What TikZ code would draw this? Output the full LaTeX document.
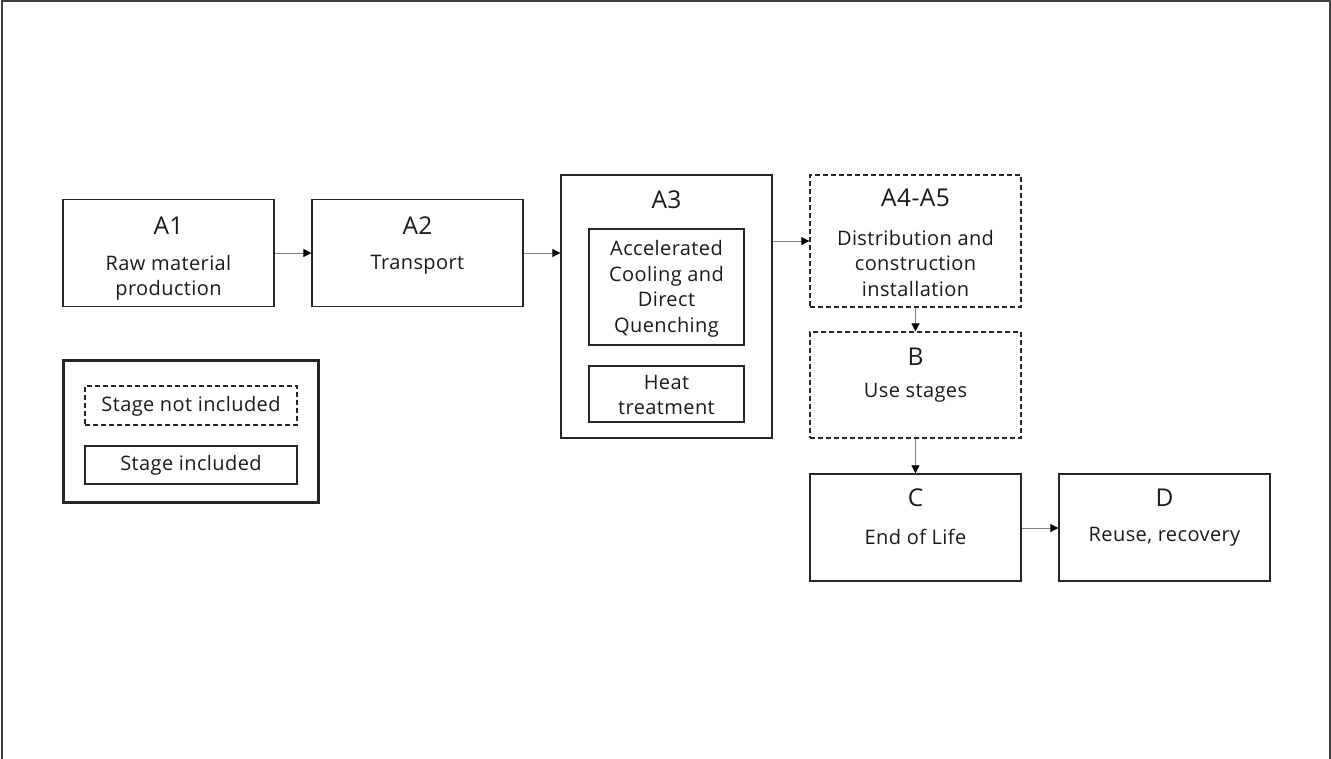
\documentclass[tikz,border=0pt]{standalone}
\usepackage{fontspec}
\setmainfont{Open Sans}[LetterSpace=2.0]
\usetikzlibrary{arrows.meta}
\definecolor{txt}{HTML}{1A1A1A}
\definecolor{edge}{HTML}{262626}
\definecolor{conn}{HTML}{808080}
\definecolor{frame}{HTML}{404040}
\tikzset{
  stagebox/.style={draw=edge, line width=1.4pt, minimum width=211pt, inner sep=0pt},
  openbox/.style={stagebox, dash pattern=on 5pt off 3pt},
  innerbox/.style={draw=edge, line width=1.4pt, minimum width=155pt, inner sep=0pt},
  ttl/.style={text=txt, inner sep=0pt, font=\fontsize{24.5}{28}\selectfont},
  body/.style={text=txt, inner sep=0pt, align=center, font=\fontsize{20}{25.5}\selectfont},
  flow/.style={draw=conn, line width=1pt, -{Triangle[length=8pt,width=8pt,color=black]}}
}
\begin{document}
\begin{tikzpicture}[x=1pt,y=-1pt]
\useasboundingbox (0,0) rectangle (1331,758);
\draw[frame, line width=2pt] (1.5,760) -- (1.5,1) -- (1330,1) -- (1330,760);

% A1
\node[stagebox, minimum height=107pt] (a1) at (168.5,253) {};
\node[ttl] (a1t) at (168.5,226) {A1};
\node[body] (a1b) at (168.5,278) {Raw material\\production};
% A2
\node[stagebox, minimum height=107pt] (a2) at (417.5,253) {};
\node[ttl] (a2t) at (417.5,226) {A2};
\node[body] (a2b) at (417.5,265) {Transport};
% A3
\node[stagebox, minimum height=263pt] (a3) at (666.5,306.5) {};
\node[ttl] (a3t) at (666.5,200) {A3};
\node[innerbox, minimum height=116pt] (a3i) at (666.5,287) {};
\node[body] (a3ib) at (666.5,289) {Accelerated\\Cooling and\\Direct\\Quenching};
\node[innerbox, minimum height=56pt] (a3h) at (666.5,394) {};
\node[body] (a3hb) at (666.5,395) {Heat\\treatment};
% A4-A5
\node[openbox, minimum height=132pt] (a4) at (915.5,241) {};
\node[ttl] (a4t) at (915.5,198) {A4-A5};
\node[body] (a4b) at (915.5,263) {Distribution and\\construction\\installation};
% B
\node[openbox, minimum height=106pt] (b) at (915.5,385) {};
\node[ttl] (bt) at (915.5,357) {B};
\node[body] (bb) at (915.5,393) {Use stages};
% C
\node[stagebox, minimum height=107pt] (c) at (915.5,527.5) {};
\node[ttl] (ct) at (915.5,498) {C};
\node[body] (cb) at (915.5,537) {End of Life};
% D
\node[stagebox, minimum height=107pt] (d) at (1164.5,527.5) {};
\node[ttl] (dt) at (1164.5,498) {D};
\node[body] (db) at (1164.5,537) {Reuse, recovery};

% Legend
\node[draw=edge, line width=3pt, minimum width=255pt, minimum height=142pt, inner sep=0pt] (leg) at (190.5,431) {};
\node[draw=edge, line width=1.4pt, dash pattern=on 5pt off 3pt, minimum width=212pt, minimum height=39pt, inner sep=0pt] (legn) at (191,405.5) {};
\node[body] (legnt) at (191,406) {Stage not included};
\node[draw=edge, line width=1.4pt, minimum width=212pt, minimum height=38pt, inner sep=0pt] (legi) at (191,465) {};
\node[body] (legit) at (191,465) {Stage included};

% connectors
\draw[flow] (a1.east |- 0,253) -- (a2.west |- 0,253);
\draw[flow] (a2.east |- 0,253) -- (a3.west |- 0,253);
\draw[flow] (a3.east |- 0,241) -- (a4.west);
\draw[flow] (a4.south) -- (b.north);
\draw[flow] (b.south) -- (c.north);
\draw[flow] (c.east |- 0,528) -- (d.west |- 0,528);
\end{tikzpicture}
\end{document}
